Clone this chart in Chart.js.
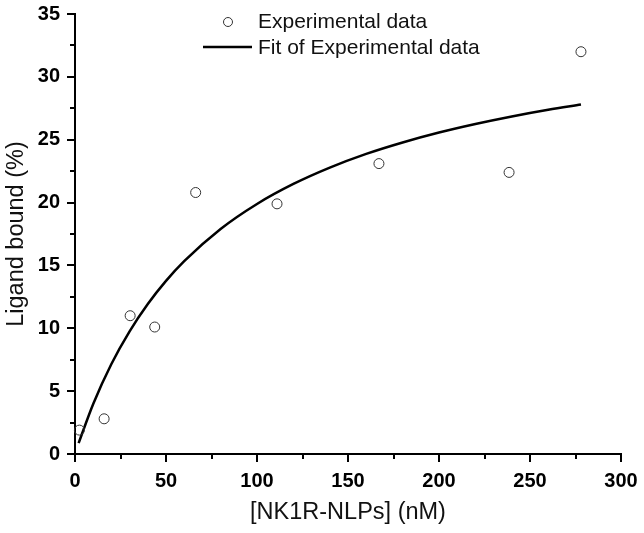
<!DOCTYPE html>
<html lang="en">
<head>
<meta charset="UTF-8">
<title>Ligand bound</title>
<script src="https://cdn.jsdelivr.net/npm/chart.js"></script>
<style>
  body { margin: 0; background: #fff; }
  #wrap { width: 644px; height: 533px; }
</style>
</head>
<body>
<div id="wrap"><canvas id="myChart" width="644" height="533"></canvas></div>
<script>
// experimental points
let expX = [2.4, 16, 30.3, 43.8, 66.3, 111, 167, 238.5, 278];
let expY = [1.9, 2.8, 11.0, 10.1, 20.8, 19.9, 23.1, 22.4, 32.0];

// fitted curve
let fitX = [2, 10, 20, 30, 40, 50, 60, 80, 100, 120, 140, 160, 180, 200, 220, 240, 260, 278];
let fitY = [0.87, 3.98, 7.16, 9.76, 11.93, 13.77, 15.34, 17.9, 19.89, 21.48, 22.78, 23.87, 24.78, 25.57, 26.25, 26.85, 27.38, 27.8];

let xTicks = [0, 50, 100, 150, 200, 250, 300];
let yTicks = [0, 5, 10, 15, 20, 25, 30, 35];

const fontFam = "'Liberation Sans', Arial, sans-serif";

function pts(xs, ys) {
    return xs.map(function (x, i) { return { x: x, y: ys[i] }; });
}

// minor + major tick marks (outward), like Origin
const tickMarks = {
    id: 'tickMarks',
    afterDraw(chart) {
        const ctx = chart.ctx;
        const xs = chart.scales.x, ys = chart.scales.y;
        const area = chart.chartArea;
        ctx.save();
        ctx.strokeStyle = '#000';
        ctx.lineWidth = 2;
        for (let v = 0; v <= 300; v += 25) {
            const px = Math.round(xs.getPixelForValue(v));
            const len = (v % 50 === 0) ? 8 : 5;
            ctx.beginPath();
            ctx.moveTo(px, area.bottom);
            ctx.lineTo(px, area.bottom + len);
            ctx.stroke();
        }
        for (let v = 0; v <= 35; v += 2.5) {
            const py = Math.round(ys.getPixelForValue(v));
            const len = (v % 5 === 0) ? 8 : 5;
            ctx.beginPath();
            ctx.moveTo(area.left, py);
            ctx.lineTo(area.left - len, py);
            ctx.stroke();
        }
        ctx.restore();
    }
};

// legend inside the plot, top left
const innerLegend = {
    id: 'innerLegend',
    afterDraw(chart) {
        const ctx = chart.ctx;
        const d0 = chart.data.datasets[0], d1 = chart.data.datasets[1];
        ctx.save();
        ctx.font = '21px ' + fontFam;
        ctx.fillStyle = '#111';
        ctx.textBaseline = 'middle';
        ctx.textAlign = 'left';
        ctx.beginPath();
        ctx.arc(228, 22, 4.5, 0, Math.PI * 2);
        ctx.strokeStyle = d0.borderColor;
        ctx.lineWidth = 1;
        ctx.stroke();
        ctx.fillText(d0.label, 258, 22);
        ctx.beginPath();
        ctx.moveTo(203, 47);
        ctx.lineTo(252, 47);
        ctx.strokeStyle = d1.borderColor;
        ctx.lineWidth = d1.borderWidth;
        ctx.stroke();
        ctx.fillText(d1.label, 258, 48);
        ctx.restore();
    }
};

const dados = {
    datasets: [{
        type: 'scatter',
        label: 'Experimental data',
        data: pts(expX, expY),
        pointStyle: 'circle',
        pointRadius: 5,
        pointHoverRadius: 5,
        borderColor: '#333',
        borderWidth: 1,
        backgroundColor: 'rgba(255,255,255,0)',
        clip: false,
        order: 1
    }, {
        type: 'line',
        label: 'Fit of Experimental data',
        data: pts(fitX, fitY),
        borderColor: '#000',
        borderWidth: 2.5,
        pointRadius: 0,
        fill: false,
        cubicInterpolationMode: 'monotone',
        clip: false,
        order: 2
    }]
};

const config = {
    type: 'scatter',
    data: dados,
    plugins: [tickMarks, innerLegend],
    options: {
        responsive: false,
        animation: false,
        layout: { padding: { left: 2, right: 23, top: 14, bottom: 6 } },
        plugins: { legend: { display: false }, tooltip: { enabled: false } },
        scales: {
            x: {
                type: 'linear',
                min: 0, max: 300,
                afterBuildTicks(scale) { scale.ticks = xTicks.map(function (v) { return { value: v }; }); },
                afterFit(scale) { scale.height = 73; scale.paddingLeft = 0; scale.paddingRight = 0; },
                grid: { display: false, drawTicks: false },
                border: { display: true, color: '#000', width: 2 },
                ticks: { color: '#000', padding: 15, maxRotation: 0, font: { family: fontFam, size: 20, weight: 'bold' } },
                title: { display: true, text: '[NK1R-NLPs] (nM)', color: '#111', padding: 0, font: { family: fontFam, size: 23.5 } }
            },
            y: {
                type: 'linear',
                min: 0, max: 35,
                afterBuildTicks(scale) { scale.ticks = yTicks.map(function (v) { return { value: v }; }); },
                afterFit(scale) { scale.width = 73; scale.paddingTop = 0; scale.paddingBottom = 0; },
                grid: { display: false, drawTicks: false },
                border: { display: true, color: '#000', width: 2 },
                ticks: { color: '#000', padding: 15, font: { family: fontFam, size: 20, weight: 'bold' } },
                title: { display: true, text: 'Ligand bound (%)', color: '#111', padding: 0, font: { family: fontFam, size: 23.5 } }
            }
        }
    }
};

let myChart = new Chart(document.getElementById('myChart'), config);
</script>
</body>
</html>
